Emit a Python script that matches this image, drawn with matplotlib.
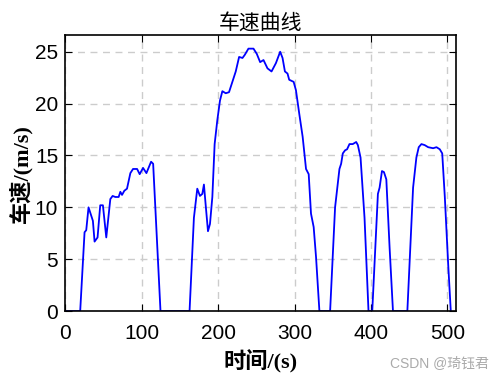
import matplotlib
matplotlib.use("Agg")
import matplotlib.pyplot as plt

plt.rcParams['font.family'] = ['Liberation Sans', 'Noto Sans CJK SC']

# time (s) and speed (m/s)
t = [0, 19.7, 25.4, 27.6, 30.6, 35.0, 36.3, 38.5, 42.4, 45.9, 49.4, 53.8, 59.1,
     62.1, 65.6, 70.0, 72.2, 74.4, 77.4, 80.9, 85.3, 88.8, 94.1, 97.5, 101.9,
     106.3, 112.4, 115.1, 124.7, 162.7, 168.4, 172.8, 176.3, 179.4, 181.5,
     183.7, 186.8, 189.4, 192.5, 195.5, 199.0, 202.5, 205.6, 210.0, 214.3,
     218.7, 223.1, 227.5, 231.9, 234.9, 239.7, 246.3, 250.6, 255.0, 259.4,
     264.6, 269.9, 275.6, 281.2, 284.3, 287.4, 290.8, 293.0, 298.8, 301.8,
     306.2, 310.6, 315.0, 318.5, 321.5, 325.0, 328.1, 332.5, 346.5, 353.0,
     358.7, 360.9, 363.1, 366.1, 368.7, 371.8, 376.1, 380.6, 382.8, 386.3,
     391.5, 396.7, 401.6, 409.0, 411.2, 414.3, 416.9, 420.0, 424.3, 428.7,
     447.5, 455.0, 459.3, 462.4, 465.9, 470.2, 474.7, 481.2, 485.6, 489.9,
     493.1, 496.5, 500.9, 504.3]
v = [0, 0, 7.6, 7.8, 10.0, 9.0, 8.7, 6.7, 7.1, 10.2, 10.2, 7.1, 10.8,
     11.1, 11.0, 11.0, 11.5, 11.2, 11.6, 11.8, 13.3, 13.7, 13.7, 13.2, 13.8,
     13.3, 14.4, 14.2, 0, 0, 9.0, 11.8, 11.1, 11.3, 12.2,
     10.3, 7.7, 8.4, 11.0, 16.1, 18.4, 20.3, 21.2, 21.0, 21.1,
     22.1, 23.1, 24.5, 24.4, 24.7, 25.3, 25.3, 24.8, 24.0, 24.2,
     23.4, 23.1, 23.9, 25.0, 24.4, 23.1, 22.9, 22.3, 22.1, 21.3,
     19.0, 16.8, 13.7, 13.2, 9.4, 8.1, 5.2, 0, 0, 10.0,
     13.7, 14.2, 15.2, 15.5, 15.6, 16.1, 16.1, 16.3, 16.0, 14.8,
     9.0, 0, 0, 11.3, 11.9, 13.5, 13.4, 12.7, 6.1, 0,
     0, 11.9, 14.8, 15.8, 16.1, 16.0, 15.8, 15.7, 15.8, 15.6,
     15.2, 11.0, 4.5, 0]

fig = plt.figure(figsize=(5.01, 3.78), dpi=100)
ax = fig.add_axes([0.130, 0.177, 0.780, 0.730])
ax.plot(t, v, color='blue', linewidth=1.3)

ax.set_xlim(0, 511)
ax.set_ylim(0, 26.6)
ax.set_xticks([0, 100, 200, 300, 400, 500])
ax.set_yticks([0, 5, 10, 15, 20, 25])
ax.tick_params(direction='in', top=True, right=True, length=5, labelsize=15)
ax.tick_params(axis='x', pad=9)
ax.tick_params(axis='y', pad=5)
ax.grid(True, linestyle=(0, (5, 4)), color='#cccccc', linewidth=1)
for s in ax.spines.values():
    s.set_linewidth(1.2)

lab_font = ['Liberation Serif', 'Noto Sans CJK SC']
ax.set_title('车速曲线', fontsize=15, family=['Noto Sans CJK SC'], pad=5)
ax.set_xlabel('时间/(s)', fontsize=16, fontweight='bold', family=lab_font, labelpad=5)
ax.set_ylabel('车速/(m/s)', fontsize=16, fontweight='bold', family=lab_font, labelpad=2)

fig.text(0.975, 0.03, 'CSDN @琦钰君', fontsize=10, color='#aaaaaa', ha='right',
         family=['Liberation Sans', 'Noto Sans CJK SC'])

fig.savefig('out.png', dpi=100)
